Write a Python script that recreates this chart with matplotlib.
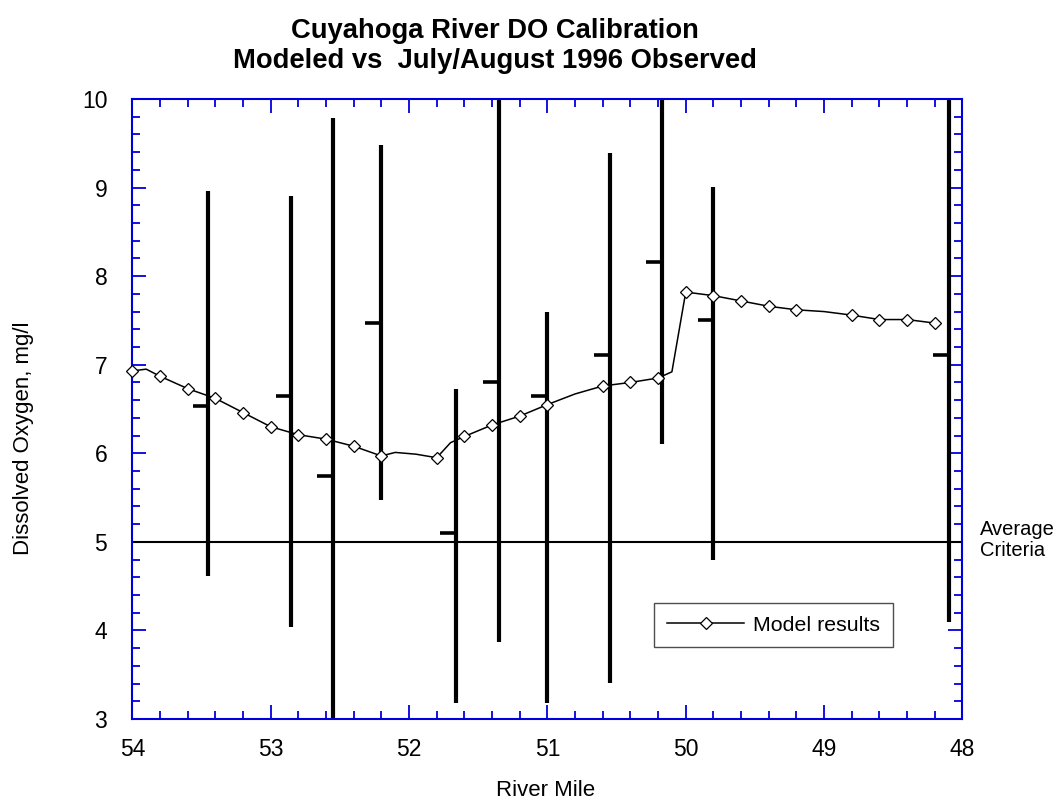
import matplotlib.pyplot as plt
from matplotlib.ticker import MultipleLocator
import numpy as np

plt.rcParams['font.family'] = ['Liberation Sans', 'DejaVu Sans']

# observed DO, July/August 1996: min / mean / max at each station
obs_mile = [53.45, 52.85, 52.55, 52.2, 51.66, 51.35, 51.0, 50.55, 50.17, 49.8, 48.1]
obs_mean = [6.53, 6.65, 5.74, 7.47, 5.10, 6.81, 6.65, 7.11, 8.16, 7.51, 7.11]
obs_min = [4.61, 4.04, 3.0, 5.47, 3.18, 3.87, 3.18, 3.41, 6.10, 4.80, 4.09]
obs_max = [8.96, 8.90, 9.78, 9.48, 6.73, 10.0, 7.60, 9.39, 10.0, 9.01, 10.0]

# model output along the reach
model_mile = [54.0, 53.9, 53.8, 53.6, 53.4, 53.2, 53.0, 52.8, 52.6, 52.4, 52.2, 52.1,
              51.95, 51.8, 51.7, 51.6, 51.4, 51.2, 51.0, 50.8, 50.6, 50.4, 50.2, 50.1,
              50.0, 49.8, 49.6, 49.4, 49.2, 49.0, 48.8, 48.6, 48.4, 48.2]
model_do = [6.93, 6.95, 6.87, 6.73, 6.62, 6.46, 6.30, 6.21, 6.16, 6.08, 5.97, 6.01,
            5.99, 5.95, 6.12, 6.19, 6.32, 6.42, 6.55, 6.67, 6.76, 6.80, 6.85, 6.92,
            7.82, 7.78, 7.72, 7.66, 7.62, 7.60, 7.56, 7.51, 7.51, 7.47]
# model nodes drawn without a symbol
unmarked = [53.9, 52.1, 51.95, 51.7, 50.8, 50.1, 49.0]

criteria = 5.0

blue = '#0000dd'

fig = plt.figure(figsize=(10.63, 8.10), dpi=100)
ax = fig.add_axes([0.1245, 0.1123, 0.7809, 0.7655])

# observed ranges with mean tick on the upstream side
ax.vlines(obs_mile, obs_min, obs_max, colors='black', linewidth=3)
ax.hlines(obs_mean, np.array(obs_mile) + 0.115, obs_mile, colors='black', linewidth=2.6)

ax.axhline(criteria, color='black', linewidth=1.5)

marks = [i for i, m in enumerate(model_mile) if m not in unmarked]
ax.plot(model_mile, model_do, color='black', linewidth=1.1, marker='D', markersize=6.6,
        markerfacecolor='white', markeredgecolor='black', markeredgewidth=0.9,
        markevery=marks, label='Model results', clip_on=False, zorder=5)

ax.set_xlim(54, 48)
ax.set_ylim(3, 10)
ax.xaxis.set_major_locator(MultipleLocator(1))
ax.xaxis.set_minor_locator(MultipleLocator(0.2))
ax.yaxis.set_major_locator(MultipleLocator(1))
ax.yaxis.set_minor_locator(MultipleLocator(0.2))

ax.tick_params(which='both', direction='in', top=True, right=True, color=blue, width=1.3,
               labelsize=16.5)
ax.tick_params(which='major', length=10)
ax.tick_params(which='minor', length=5.5)
ax.tick_params(axis='x', pad=14)
ax.tick_params(axis='y', pad=18)
for s in ax.spines.values():
    s.set_color(blue)
    s.set_linewidth(1.5)

leg = ax.legend(loc='upper left', bbox_to_anchor=(0.629, 0.1876), fontsize=15.4,
                fancybox=False, framealpha=1, edgecolor='0.3', handlelength=3.6,
                borderpad=0.6, borderaxespad=0, handletextpad=0.4)
leg.get_frame().set_linewidth(1.0)

fig.text(0.466, 1 - 31 / 810, 'Cuyahoga River DO Calibration', ha='center', va='center',
         fontsize=19.7, fontweight='bold')
fig.text(0.466, 1 - 61 / 810, 'Modeled vs  July/August 1996 Observed', ha='center',
         va='center', fontsize=19.7, fontweight='bold')

fig.text(546 / 1063, 1 - 790 / 810, 'River Mile', ha='center', va='center', fontsize=16)
fig.text(24 / 1063, 1 - 438 / 810, 'Dissolved Oxygen, mg/l', ha='center', va='center',
         rotation=90, fontsize=16)
fig.text(980 / 1063, 1 - 540 / 810, 'Average\nCriteria', ha='left', va='center',
         fontsize=14.5, linespacing=1.18)

fig.savefig('out.png', dpi=100)
